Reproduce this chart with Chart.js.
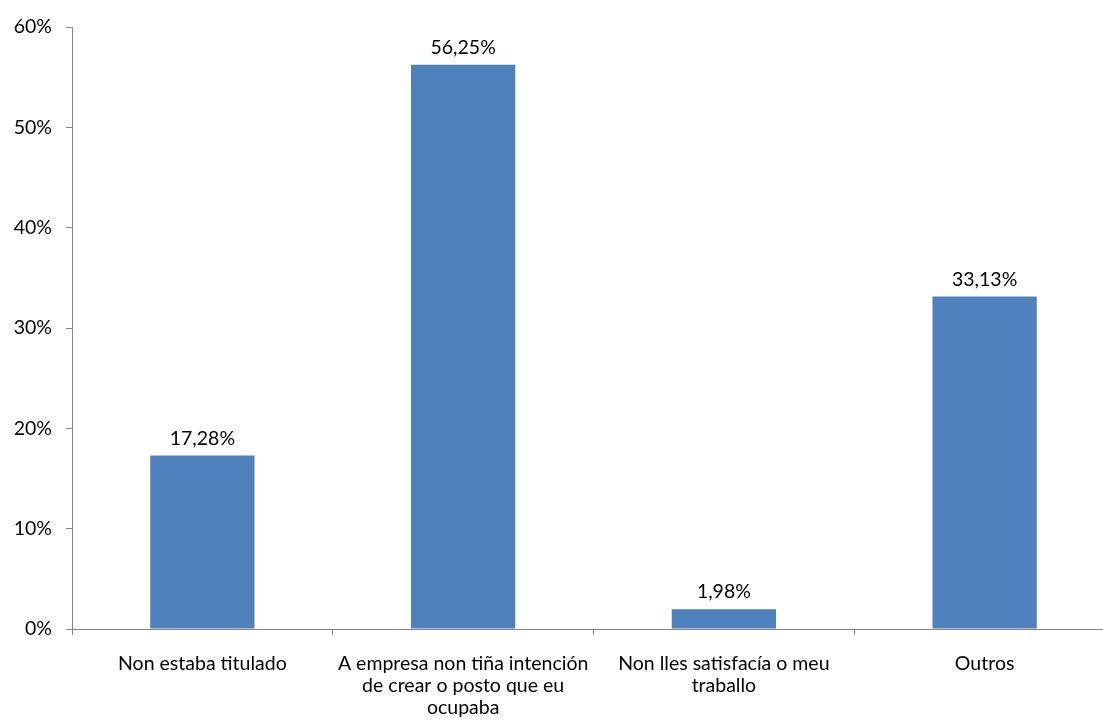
<!DOCTYPE html>
<html lang="gl">
<head>
    <meta charset="UTF-8">
    <title>Motivos</title>
    <script src="https://cdn.jsdelivr.net/npm/chart.js"></script>
    <style>
    html, body {
        margin: 0;
        padding: 0;
        background: #fff;
        overflow: hidden;
    }
    .wrap {
        width: 1103px;
        height: 724px;
        overflow: hidden;
    }
    .box {
        width: 1115px;
        height: 724px;
    }
    </style>
</head>
<body>
    <div class="wrap">
        <div class="box"><canvas id="chart"></canvas></div>
    </div>

    <script>
        // data
        const categories = [
            ['Non estaba titulado'],
            ['A empresa non tiña intención', 'de crear o posto que eu', 'ocupaba'],
            ['Non lles satisfacía o meu', 'traballo'],
            ['Outros']
        ];
        const values = [17.28, 56.25, 1.98, 33.13];
        const yTicks = [0, 10, 20, 30, 40, 50, 60];

        const fontFamily = 'Lato, "Open Sans", sans-serif';
        const fontSize = 19.5;
        const axisColor = '#868686';

        // value labels over the bars, with a comma as decimal mark
        const valueLabels = {
            id: 'valueLabels',
            afterDatasetsDraw(chart) {
                const ctx = chart.ctx;
                const meta = chart.getDatasetMeta(0);
                ctx.save();
                ctx.font = fontSize + 'px ' + fontFamily;
                ctx.fillStyle = '#000';
                ctx.textAlign = 'center';
                ctx.textBaseline = 'alphabetic';
                meta.data.forEach((bar, i) => {
                    ctx.fillText(values[i].toFixed(2).replace('.', ',') + '%', bar.x, bar.y - 11);
                });
                ctx.restore();
            }
        };

        new Chart(document.getElementById('chart'), {
            type: 'bar',
            data: {
                labels: categories,
                datasets: [{
                    data: values,
                    backgroundColor: '#4F81BD',
                    borderWidth: 0,
                    categoryPercentage: 1,
                    barPercentage: 0.4
                }]
            },
            options: {
                responsive: true,
                maintainAspectRatio: false,
                animation: false,
                layout: { padding: { top: 27, right: 0, bottom: 0, left: 0 } },
                plugins: {
                    legend: { display: false },
                    tooltip: { enabled: false }
                },
                scales: {
                    x: {
                        grid: {
                            offset: true,
                            drawOnChartArea: false,
                            drawTicks: true,
                            tickLength: 6,
                            color: axisColor
                        },
                        border: { color: axisColor, width: 1 },
                        ticks: {
                            color: '#000',
                            font: { family: fontFamily, size: fontSize, lineHeight: '22px' },
                            padding: 18,
                            maxRotation: 0,
                            autoSkip: false
                        },
                        afterFit(scale) { scale.height = 95; }
                    },
                    y: {
                        min: 0,
                        max: 60,
                        afterBuildTicks(scale) {
                            scale.ticks = yTicks.map(v => ({ value: v }));
                        },
                        grid: {
                            drawOnChartArea: false,
                            drawTicks: true,
                            tickLength: 6,
                            color: axisColor
                        },
                        border: { color: axisColor, width: 1 },
                        ticks: {
                            color: '#000',
                            font: { family: fontFamily, size: fontSize },
                            padding: 14,
                            callback: v => v + '%'
                        },
                        afterFit(scale) { scale.width = 72; }
                    }
                }
            },
            plugins: [valueLabels]
        });
    </script>
</body>
</html>
